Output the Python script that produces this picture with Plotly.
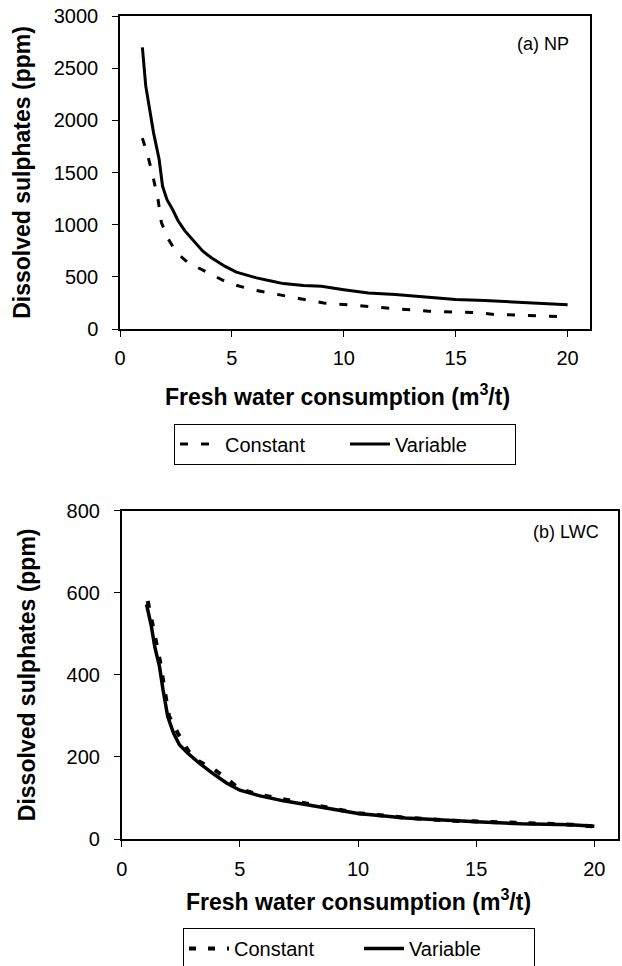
import plotly.graph_objects as go

# ---- data ----
np_var_x = [1.0, 1.15, 1.5, 1.75, 1.9, 2.1, 2.35, 2.6, 2.9, 3.3, 3.7, 4.1, 4.7, 5.2, 6.1, 6.8,
            7.3, 8.2, 9.0, 10.0, 11.1, 12.3, 13.8, 15.0, 16.3, 17.7, 18.9, 20.0]
np_var_y = [2700, 2330, 1880, 1625, 1370, 1240, 1145, 1035, 940, 840, 745, 680, 600, 545, 490, 457,
            435, 416, 409, 377, 345, 330, 305, 282, 272, 256, 249, 233]

np_con_x = [1.0, 1.25, 1.5, 1.7, 1.85, 2.15, 2.45, 2.7, 3.05, 3.8, 4.85, 5.9, 7.0, 8.05, 9.1,
            10.0, 11.1, 12.3, 13.8, 15.0, 15.9, 16.8, 17.7, 19.1, 20.0]
np_con_y = [1830, 1655, 1435, 1240, 1020, 865, 760, 700, 635, 555, 440, 378, 330, 290, 250,
            233, 217, 195, 170, 160, 158, 138, 135, 122, 118]

lwc_var_x = [1.05, 1.25, 1.4, 1.6, 1.75, 1.95, 2.2, 2.45, 2.8, 3.3, 3.85, 4.45, 5.0, 5.85, 6.85,
             8.25, 10.0, 12.0, 13.8, 15.0, 16.9, 19.0, 20.0]
lwc_var_y = [572, 520, 468, 420, 363, 298, 257, 229, 209, 184, 160, 136, 119, 105, 93,
             80, 62, 51, 45, 42, 37, 35, 31]

lwc_con_x = [1.1, 1.3, 1.45, 1.65, 1.8, 2.0, 2.4, 2.85, 3.3, 3.9, 4.6, 5.0, 5.9, 7.0, 8.3,
             10.0, 12.0, 13.8, 15.0, 17.0, 19.0, 20.0]
lwc_con_y = [580, 525, 475, 425, 368, 300, 255, 212, 188, 170, 140, 121, 107, 94, 81,
             63, 52, 45, 43, 38, 35, 31]

x_ticks = [0, 5, 10, 15, 20]
np_y_ticks = [0, 500, 1000, 1500, 2000, 2500, 3000]
lwc_y_ticks = [0, 200, 400, 600, 800]

FONT = "Liberation Sans, Arial, sans-serif"
W, H = 622, 966

fig = go.Figure()
fig.add_trace(go.Scatter(x=np_con_x, y=np_con_y, mode="lines", name="Constant",
                         line=dict(color="black", width=3, dash="8px,13px"),
                         xaxis="x", yaxis="y", legend="legend"))
fig.add_trace(go.Scatter(x=np_var_x, y=np_var_y, mode="lines", name="Variable",
                         line=dict(color="black", width=3),
                         xaxis="x", yaxis="y", legend="legend"))
fig.add_trace(go.Scatter(x=lwc_con_x, y=lwc_con_y, mode="lines", name="Constant",
                         line=dict(color="black", width=4, dash="7px,12px"),
                         xaxis="x2", yaxis="y2", legend="legend2"))
fig.add_trace(go.Scatter(x=lwc_var_x, y=lwc_var_y, mode="lines", name="Variable",
                         line=dict(color="black", width=3.5),
                         xaxis="x2", yaxis="y2", legend="legend2"))

axis_common = dict(showline=True, linecolor="black", linewidth=1.5, mirror=True,
                   ticks="outside", ticklen=6, tickcolor="black", tickwidth=1.2,
                   showgrid=False, zeroline=False, automargin=False,
                   tickfont=dict(family=FONT, size=20, color="black"))

title_font = dict(family=FONT, size=23, color="black", weight="bold")
xtitle = "Fresh water consumption (m<sup>3</sup>/t)"
ytitle = "Dissolved sulphates (ppm)"

fig.update_layout(
    width=W, height=H,
    margin=dict(l=0, r=0, t=0, b=0, autoexpand=False),
    paper_bgcolor="white", plot_bgcolor="white",
    showlegend=True,
    xaxis=dict(domain=[120 / W, 590 / W], range=[0, 21], tickvals=x_ticks, anchor="y",
               ticklabelstandoff=4, **axis_common),
    yaxis=dict(domain=[1 - 329 / H, 1 - 16 / H], range=[0, 3000], tickvals=np_y_ticks, anchor="x",
               ticklabelstandoff=10,
               title=dict(text=ytitle, font=title_font, standoff=17), **axis_common),
    xaxis2=dict(domain=[121.7 / W, 618 / W], range=[0, 21], tickvals=x_ticks, anchor="y2",
                ticklabelstandoff=5, **axis_common),
    yaxis2=dict(domain=[1 - 839 / H, 1 - 510.7 / H], range=[0, 800], tickvals=lwc_y_ticks, anchor="x2",
                ticklabelstandoff=10,
                title=dict(text=ytitle, font=title_font, standoff=25), **axis_common),
    legend=dict(orientation="h", x=345 / W, y=1 - 444 / H, xanchor="center", yanchor="middle",
                bordercolor="black", borderwidth=1, bgcolor="white",
                font=dict(family=FONT, size=20, color="black"), itemwidth=40,
                entrywidth=115, tracegroupgap=0),
    legend2=dict(orientation="h", x=359 / W, y=1 - 928 / H, xanchor="center", yanchor="top",
                 bordercolor="black", borderwidth=1, bgcolor="white",
                 font=dict(family=FONT, size=20, color="black"), itemwidth=40,
                 entrywidth=120, tracegroupgap=0),
    annotations=[
        dict(text=xtitle, xref="paper", yref="paper", x=337 / W, y=1 - 395 / H,
             xanchor="center", yanchor="middle", showarrow=False, font=title_font),
        dict(text=xtitle, xref="paper", yref="paper", x=358 / W, y=1 - 900 / H,
             xanchor="center", yanchor="middle", showarrow=False, font=title_font),
        dict(text="(a) NP", xref="x domain", yref="y domain", x=0.96, y=0.91,
             xanchor="right", yanchor="middle", showarrow=False,
             font=dict(family=FONT, size=18, color="black")),
        dict(text="(b) LWC", xref="x2 domain", yref="y2 domain", x=0.965, y=0.935,
             xanchor="right", yanchor="middle", showarrow=False,
             font=dict(family=FONT, size=18, color="black")),
    ],
)

fig.write_html("out.html")
